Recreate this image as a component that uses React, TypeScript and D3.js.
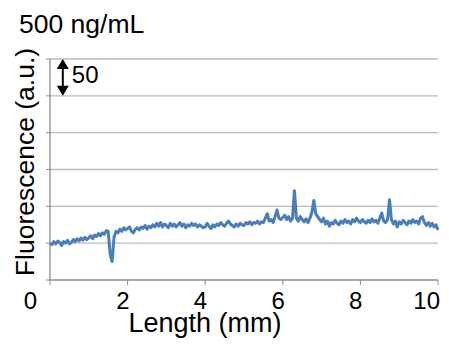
import * as d3 from "d3";

// Fluorescence profile along the channel, 500 ng/mL sample.
const lengthStart = 0;
const lengthStep = 0.05;
const fluorescence: number[] = [
  // 0 - 1 mm
  50, 48, 52, 49, 53, 51, 47, 52, 50, 54, 49, 51, 55, 52, 56, 53, 57, 54, 58, 55,
  // 1 - 2 mm
  57, 60, 56, 61, 59, 63, 60, 64, 62, 67, 66, 35, 25, 58, 66, 64, 69, 66, 71, 68,
  // 2 - 3 mm
  70, 72, 66, 64, 69, 71, 68, 72, 70, 74, 69, 73, 71, 75, 72, 77, 73, 78, 72, 76,
  // 3 - 4 mm
  74, 71, 77, 73, 76, 72, 75, 78, 73, 76, 71, 75, 73, 77, 74, 76, 72, 75, 73, 71,
  // 4 - 5 mm
  72, 77, 73, 70, 75, 72, 76, 74, 78, 75, 73, 77, 80, 76, 74, 72, 76, 73, 77, 75,
  // 5 - 6 mm
  74, 78, 76, 79, 75, 78, 77, 80, 76, 79, 78, 84, 90, 80, 82, 78, 86, 95, 84, 82,
  // 6 - 7 mm
  85, 88, 82, 86, 80, 84, 121, 84, 80, 86, 82, 79, 83, 78, 84, 92, 108, 90, 86, 82,
  // 7 - 8 mm
  79, 84, 76, 80, 73, 78, 76, 81, 77, 75, 80, 77, 82, 78, 80, 76, 82, 79, 84, 80,
  // 8 - 9 mm
  78, 82, 79, 77, 81, 78, 83, 79, 81, 77, 84, 91, 80, 78, 82, 109, 82, 76, 80, 72,
  // 9 - 10 mm
  79, 76, 81, 78, 75, 80, 77, 82, 78, 80, 76, 84, 86, 78, 74, 78, 73, 77, 72, 75, 68,
];

const xTicks = [0, 2, 4, 6, 8, 10];
const yGrid = [0, 50, 100, 150, 200, 250, 300];
const scaleBar = { from: 250, to: 300, at: 0.33, label: "50" };

const title = "500 ng/mL";
const xLabel = "Length (mm)";
const yLabel = "Fluorescence (a.u.)";

type Pt = { x: number; v: number };

export default function App() {
  const W = 449;
  const H = 351;
  const margin = { top: 59, right: 11, bottom: 71, left: 50 };
  const w = W - margin.left - margin.right;
  const h = H - margin.top - margin.bottom;

  const x = d3.scaleLinear().domain([0, 10]).range([0, w]);
  const y = d3.scaleLinear().domain([0, 300]).range([h, 0]);

  const pts: Pt[] = fluorescence.map((v, i) => ({
    x: lengthStart + i * lengthStep,
    v,
  }));
  const line = d3
    .line<Pt>()
    .x((d) => x(d.x))
    .y((d) => y(d.v));

  const font = "'Liberation Sans', Arial, sans-serif";
  const grid = "#bcbcbc";
  const axis = "#8c8c8c";

  const barX = x(scaleBar.at);
  const barTop = y(scaleBar.to);
  const barBot = y(scaleBar.from);

  return (
    <svg
      width={W}
      height={H}
      style={{ position: "absolute", left: 0, top: 0, background: "#fff" }}
      fontFamily={font}
    >
      <text x={19} y={33} fontSize={26.5} fill="#000">
        {title}
      </text>

      <g transform={`translate(${margin.left},${margin.top})`}>
        {/* horizontal gridlines, the 0 line is the x axis */}
        {yGrid.map((t) => (
          <g key={t}>
            <line
              x1={0}
              x2={w}
              y1={y(t)}
              y2={y(t)}
              stroke={t === 0 ? axis : grid}
              strokeWidth={1.3}
            />
            <line x1={-4} x2={0} y1={y(t)} y2={y(t)} stroke={axis} strokeWidth={1} />
          </g>
        ))}
        <line x1={0} x2={0} y1={0} y2={h} stroke={axis} strokeWidth={1.3} />

        {xTicks.map((t) => (
          <g key={t} transform={`translate(${x(t)},${h})`}>
            <line y1={0} y2={5} stroke={axis} strokeWidth={1} />
            <text
              x={t === 0 ? -13 : 2}
              y={29}
              fontSize={24}
              textAnchor="end"
              fill="#000"
            >
              {t}
            </text>
          </g>
        ))}

        <path
          d={line(pts) ?? ""}
          fill="none"
          stroke="#4a7ebb"
          strokeWidth={3}
          strokeLinejoin="round"
        />

        {/* 50 a.u. scale bar */}
        <line
          x1={barX}
          x2={barX}
          y1={barTop + 6}
          y2={barBot - 6}
          stroke="#000"
          strokeWidth={2}
        />
        <path
          d={`M${barX - 6},${barTop + 10}L${barX},${barTop}L${barX + 6},${barTop + 10}Z`}
          fill="#000"
        />
        <path
          d={`M${barX - 6},${barBot - 10}L${barX},${barBot}L${barX + 6},${barBot - 10}Z`}
          fill="#000"
        />
        <text x={barX + 9} y={barTop + 24} fontSize={24} fill="#000">
          {scaleBar.label}
        </text>

        <text
          x={155}
          y={h + 52}
          fontSize={27}
          textAnchor="middle"
          fill="#000"
        >
          {xLabel}
        </text>
      </g>

      <text
        transform={`translate(34,162) rotate(-90)`}
        fontSize={26.5}
        textAnchor="middle"
        fill="#000"
      >
        {yLabel}
      </text>
    </svg>
  );
}
